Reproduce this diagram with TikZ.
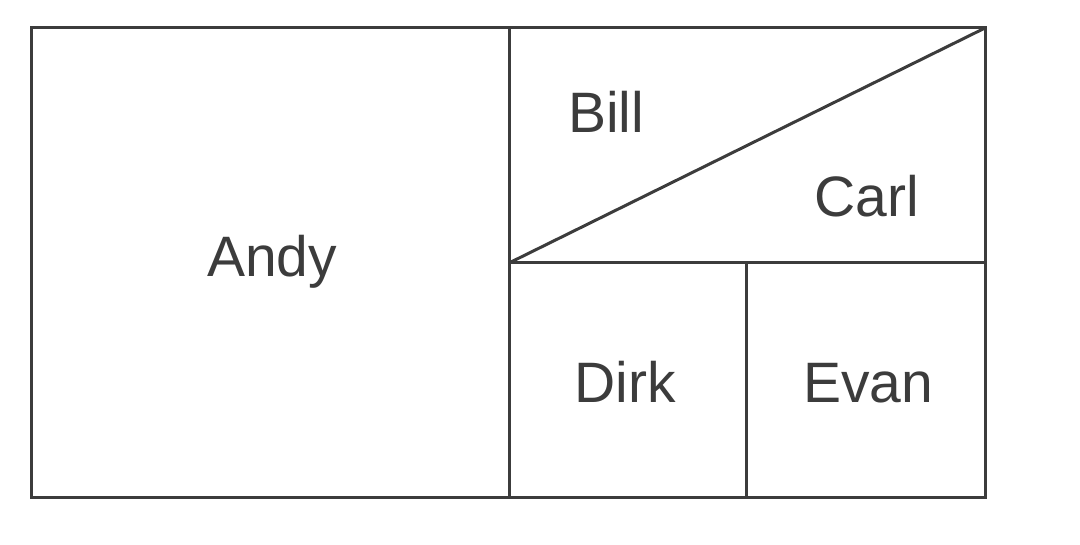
\documentclass[tikz,border=0pt]{standalone}
\usepackage{fontspec}
\setmainfont{Liberation Sans}
\usetikzlibrary{positioning}
\definecolor{inkgray}{HTML}{3C3C3C}
\begin{document}
\begin{tikzpicture}[x=0.5pt,y=0.5pt,line width=1.5pt,
  boylabel/.style={anchor=base,text=inkgray,font=\fontsize{28.5}{30}\selectfont,inner sep=0pt}]
\useasboundingbox (0,0) rectangle (1080,545);
\coordinate (sw) at (31,47);
\coordinate (ne) at (985,517);
\coordinate (midtop) at (509,517);
\coordinate (midbot) at (509,47);
\coordinate (midleft) at (509,282);
\coordinate (midright) at (985,282);
\coordinate (lowtop) at (746,282);
\coordinate (lowbot) at (746,47);
\draw[inkgray] (sw) rectangle (ne);
\draw[inkgray] (midtop) -- (midbot);
\draw[inkgray] (midleft) -- (midright);
\draw[inkgray] (lowtop) -- (lowbot);
\draw[inkgray] (midleft) -- (ne);
\node[boylabel] (andy) at (272,268) {Andy};
\node[boylabel] (bill) at (606,412) {Bill};
\node[boylabel] (carl) at (867,328) {Carl};
\node[boylabel] (dirk) at (625,142) {Dirk};
\node[boylabel] (evan) at (868,142) {Evan};
\end{tikzpicture}
\end{document}
